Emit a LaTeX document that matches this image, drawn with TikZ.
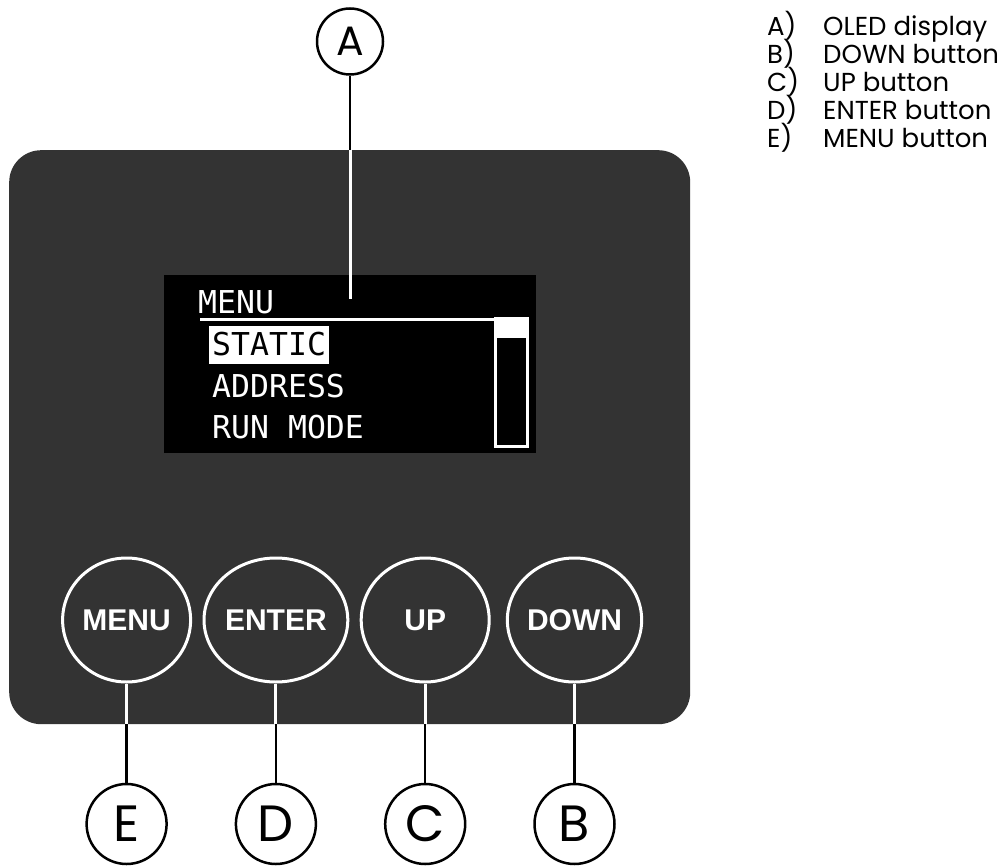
\documentclass[tikz,border=0pt]{standalone}
\usepackage{fontspec}
\setmainfont{Poppins}
\newfontfamily\monof{DejaVu Sans Mono}
\newfontfamily\btnf{Liberation Sans}
\usetikzlibrary{shapes.geometric}
\definecolor{panel}{HTML}{333333}
\begin{document}
\begin{tikzpicture}[x=1pt,y=-1pt,
  lblcirc/.style={circle,draw=black,line width=2.5pt,fill=white,inner sep=0pt},
  btn/.style={ellipse,draw=white,line width=3pt,minimum width=128pt,minimum height=124pt,inner sep=0pt,
    font=\btnf\bfseries\fontsize{30}{30}\selectfont,text=white},
  wline/.style={draw=white,line width=3pt},
  bline/.style={draw=black,line width=2.5pt},
  disptext/.style={anchor=base west,inner sep=0pt,font=\monof\fontsize{31.5}{31.5}\selectfont,text=white},
  legend/.style={anchor=base west,inner sep=0pt,font=\fontsize{26}{26}\selectfont}]
\useasboundingbox (0,0) rectangle (1008,866);
% panel
\node[fill=panel,rounded corners=32pt,minimum width=681pt,minimum height=574pt,inner sep=0pt,anchor=north west] (panel) at (9,150) {};
% display
\node[fill=black,minimum width=372pt,minimum height=178pt,inner sep=0pt,anchor=north west] (disp) at (164,275) {};
\fill[white] (209,326) rectangle (329,364);
\node[disptext] (tmenu) at (198,313) {MENU};
\node[disptext,text=black] (tstatic) at (212,355) {STATIC};
\node[disptext] (taddr) at (212,397) {ADDRESS};
\node[disptext] (trun) at (212,438) {RUN MODE};
\draw[white,line width=3pt] (200,319) -- (495,319);
\draw[white,line width=3pt] (495.5,318.5) rectangle (527.5,446.5);
\fill[white] (494,317) rectangle (529,338);
% callout A
\node[lblcirc,minimum size=66pt,font=\fontsize{41}{41}\selectfont] (A) at (350,41.5) {A};
\coordinate (Atop) at (350,150);
\coordinate (Aend) at (350,299);
\draw[bline] (A.south) -- (Atop);
\draw[wline] (Atop) -- (Aend);
% buttons
\foreach \n/\t/\x/\l in {menu/MENU/126.6/E, enter/ENTER/275.9/D, up/UP/425.2/C, down/DOWN/574.5/B}{
  \node[btn] (\n) at (\x,620) {\t};
  \coordinate (\n edge) at (\x,724);
  \node[lblcirc,minimum size=80pt,font=\fontsize{51}{51}\selectfont] (\l) at (\x,824) {\l};
  \draw[wline] (\n.south) -- (\n edge);
  \draw[bline] (\n edge) -- (\l.north);
}
% legend
\foreach \k/\t [count=\i from 0] in {A/OLED display, B/DOWN button, C/UP button, D/ENTER button, E/MENU button}{
  \node[legend] (lk\k) at (767,36+28*\i) {\k)};
  \node[legend] (lt\k) at (823,36+28*\i) {\t};
}
\end{tikzpicture}
\end{document}
